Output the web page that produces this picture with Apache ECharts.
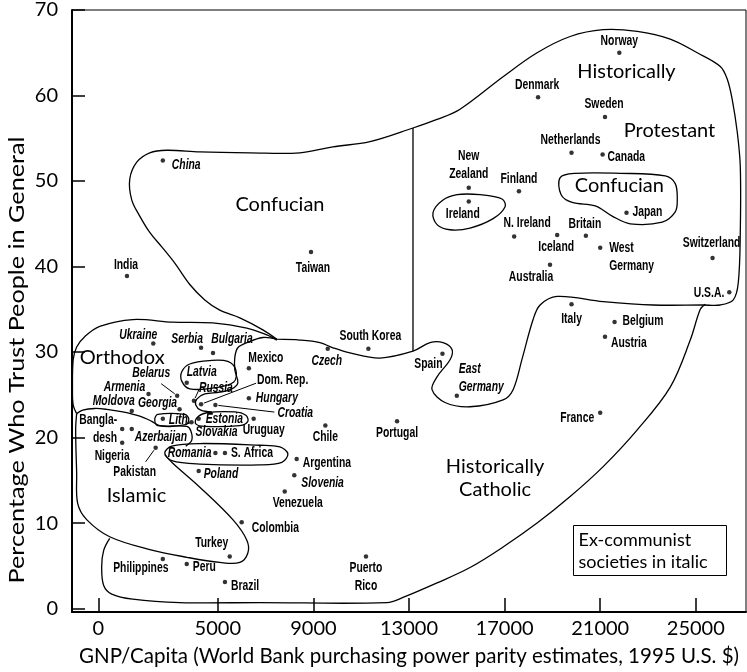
<!DOCTYPE html>
<html>
<head>
<meta charset="utf-8">
<script src="https://cdn.jsdelivr.net/npm/echarts@6/dist/echarts.min.js"></script>
<style>
  html, body { margin: 0; padding: 0; background: #fff; }
  #chart { width: 747px; height: 672px; }
</style>
</head>
<body>
<div id="chart"></div>
<script>
// --- data ---
const countries = ['Norway', 'Denmark', 'Sweden', 'Netherlands', 'Canada', 'New Zealand', 'Finland', 'Ireland', 'Japan',
  'N. Ireland', 'Iceland', 'Britain', 'West Germany', 'Australia', 'Switzerland', 'U.S.A.', 'Italy', 'Belgium', 'Austria',
  'Spain', 'East Germany', 'France', 'Portugal', 'South Korea', 'Puerto Rico', 'China', 'India', 'Taiwan', 'Ukraine',
  'Serbia', 'Bulgaria', 'Latvia', 'Belarus', 'Armenia', 'Georgia', 'Moldova', 'Russia', 'Dom. Rep.', 'Croatia', 'Lith.',
  'Estonia', 'Slovakia', 'Bangladesh', 'Azerbaijan', 'Nigeria', 'Pakistan', 'Romania', 'S. Africa', 'Poland', 'Uruguay',
  'Mexico', 'Hungary', 'Czech', 'Chile', 'Argentina', 'Slovenia', 'Venezuela', 'Colombia', 'Turkey', 'Philippines',
  'Peru', 'Brazil'];
const gnpPerCapita = [21800, 18400, 21200, 19800, 21100, 15500, 17600, 15500, 22100,
  17400, 19200, 20400, 21000, 18900, 25700, 26400, 19800, 21600, 21200,
  14400, 15000, 21000, 12500, 11300, 11200, 2700, 1200, 8900, 2300,
  4300, 4800, 3700, 3300, 2100, 3400, 1400, 4000, 4300, 4900, 2700,
  4200, 3900, 1000, 1400, 1000, 2400, 4900, 5300, 4200, 6500,
  6300, 6300, 9600, 9500, 8300, 8200, 7800, 6000, 5500, 2700,
  3700, 5300];
const trustPct = [65.0, 59.8, 57.5, 53.3, 53.1, 49.2, 48.8, 47.6, 46.3,
  43.5, 43.7, 43.6, 42.2, 40.2, 41.0, 37.0, 35.6, 33.5, 31.8,
  29.8, 24.9, 22.9, 21.9, 30.4, 6.1, 52.4, 38.9, 41.7, 31.0,
  30.5, 29.9, 26.4, 24.9, 25.1, 23.3, 23.1, 24.3, 23.9, 23.8, 22.2,
  22.2, 21.8, 21.0, 21.0, 19.4, 18.8, 18.2, 18.2, 16.1, 22.2,
  28.1, 24.6, 30.4, 21.4, 17.5, 15.6, 13.7, 10.1, 6.1, 5.8,
  5.2, 3.1];
const exCommunist = ['East Germany', 'China', 'Ukraine', 'Serbia', 'Bulgaria', 'Latvia', 'Belarus', 'Armenia', 'Georgia',
  'Moldova', 'Russia', 'Croatia', 'Lith.', 'Estonia', 'Slovakia', 'Azerbaijan', 'Romania', 'Poland', 'Hungary', 'Czech',
  'Slovenia'];

const xTicks = [0, 5000, 9000, 13000, 17000, 21000, 25000];
const yTicks = [0, 10, 20, 30, 40, 50, 60, 70];

// zone names and where they sit (data units)
const regionText = ['Confucian', 'Historically', 'Protestant', 'Confucian', 'Orthodox', 'Islamic', 'Historically\nCatholic'];
const regionX = [7600, 22100, 23900, 21800, 1000, 1600, 16600];
const regionY = [47.2, 62.8, 55.9, 49.5, 29.3, 13.2, 15.3];

// zone boundaries, hand traced (data units)
const confucianProtestantLine = [[7471, 31.5], [6885, 32.6], [5922, 34.0], [5084, 34.9], [4456, 36.1], [3828, 37.9],
  [3200, 40.4], [2655, 42.3], [2153, 44.0], [1734, 45.9], [1399, 47.8], [1315, 50.2], [1608, 52.2], [2153, 53.3],
  [2865, 53.6], [4247, 53.4], [6341, 53.3], [8434, 53.3], [9816, 54.0], [11366, 54.6], [13167, 56.2], [14173, 57.2],
  [15136, 58.4], [16936, 62.2], [18360, 65.0], [19742, 66.9], [21124, 67.7], [22549, 67.5], [23930, 66.6],
  [25061, 65.0], [26024, 63.4], [26317, 61.9], [26526, 59.5], [26735, 55.7], [26861, 51.7], [26861, 44.0],
  [26777, 38.1], [26568, 36.1], [26024, 35.5], [25312, 35.5], [23219, 35.5], [21124, 35.9], [19197, 36.5],
  [18485, 35.5], [18192, 33.8], [17732, 29.2], [17355, 25.6], [16936, 24.4], [15554, 23.6], [14508, 24.1],
  [13963, 25.6], [14173, 27.1], [14717, 29.1], [14801, 30.3], [14424, 31.1], [13879, 31.1], [13167, 30.1],
  [11785, 29.3], [10528, 29.9], [9816, 30.5], [9272, 31.1], [8434, 31.4], [7471, 31.5]];
const confucianDivider = [[13167, 56.2], [13167, 30.1]];
const catholicOuterLine = [[25396, 35.6], [25187, 35.0], [24768, 31.4], [23930, 25.9], [22549, 20.9], [21124, 16.6],
  [19742, 13.1], [18360, 10.0], [16936, 7.2], [15554, 4.8], [14173, 3.0], [12749, 1.3], [12079, 0.7], [6759, 0.7],
  [3409, 0.7], [1441, 1.1], [561, 1.7], [226, 2.7], [142, 4.9], [226, 6.8], [477, 8.2]];
const catholicWestLine = [[7471, 31.5], [6885, 31.7], [6215, 31.1], [5838, 30.5], [5713, 29.4], [5713, 27.9],
  [5838, 26.4], [5587, 25.7], [5084, 25.3], [4456, 25.1], [4121, 24.5], [4079, 23.8], [4289, 23.2], [4749, 23.0]];
const orthodoxLine = [[7471, 31.4], [7052, 32.0], [6215, 32.8], [4791, 33.4], [3116, 33.5], [1441, 33.8], [59, 33.0],
  [-570, 31.8], [-905, 30.6], [-1050, 29.1], [-1080, 25.6], [-1050, 23.8], [-905, 22.8]];
const islamicTopLine = [[-905, 22.8], [-653, 23.2], [-151, 23.4], [352, 23.3], [1022, 23.0], [1734, 22.5],
  [2236, 21.9], [2571, 21.4], [3702, 21.3], [3870, 20.8], [3912, 19.7], [3660, 19.0]];
const islamicLowerLine = [[-905, 22.8], [-947, 20.9], [-905, 15.9], [-863, 12.3], [-486, 10.4], [477, 8.4],
  [2153, 6.9], [3702, 6.0], [5084, 5.4], [5922, 5.4], [6257, 6.5], [6215, 8.0], [5629, 10.4], [4247, 14.2],
  [3116, 17.0], [2781, 18.0]];
const romaniaLoop = [[2781, 18.2], [3074, 19.0], [4247, 19.3], [6759, 19.1], [7597, 18.9], [7932, 18.1],
  [7680, 17.1], [6759, 16.8], [4247, 16.9], [3074, 17.3]];
const latviaLoop = [[3493, 27.7], [3828, 28.6], [4666, 29.0], [5419, 28.9], [5754, 27.9], [5670, 26.5],
  [4833, 25.8], [3828, 25.7], [3493, 26.6]];
const lithLoop = [[2488, 22.7], [3618, 22.7], [3786, 22.2], [3660, 21.5], [2488, 21.4], [2362, 22.1]];
const estoniaLoop = [[4121, 22.3], [4540, 22.9], [5713, 23.0], [6173, 22.6], [6257, 21.9], [5922, 21.4],
  [4456, 21.3], [4079, 21.6]];
const irelandLoop = [[14005, 46.3], [14382, 47.7], [15010, 48.4], [15973, 48.4], [16894, 47.9], [17020, 47.0],
  [16518, 45.6], [15554, 44.5], [14717, 44.3], [14173, 44.9]];
const japanLoop = [[19323, 50.4], [19951, 50.9], [21836, 50.9], [23721, 50.6], [24140, 49.7], [24224, 47.8],
  [24140, 46.4], [23596, 45.2], [22255, 45.0], [21501, 45.9], [20789, 47.1], [19826, 47.5], [19365, 48.4]];

const boundaries = [
  { pts: confucianProtestantLine, closed: false },
  { pts: confucianDivider, closed: false },
  { pts: catholicOuterLine, closed: false },
  { pts: catholicWestLine, closed: false },
  { pts: orthodoxLine, closed: false },
  { pts: islamicTopLine, closed: false },
  { pts: islamicLowerLine, closed: false },
  { pts: romaniaLoop, closed: true },
  { pts: latviaLoop, closed: true },
  { pts: lithLoop, closed: true },
  { pts: estoniaLoop, closed: true },
  { pts: irelandLoop, closed: true },
  { pts: japanLoop, closed: true }
];

// --- label styling (pixel offsets from the dot) ---
const labelPlacement = {
  'Norway': [0, -12, 'center'], 'Denmark': [-1, -12, 'center'], 'Sweden': [-1, -13, 'center'],
  'Netherlands': [-1, -13, 'center'], 'Canada': [5, 3, 'left'], 'New Zealand': [0, -23, 'center'],
  'Finland': [0, -12, 'center'], 'Ireland': [-6, 13, 'center'], 'Japan': [6, -1, 'left'],
  'N. Ireland': [13, -13, 'center'], 'Iceland': [-1, 12, 'center'], 'Britain': [-1, -12, 'center'],
  'West Germany': [9, 9, 'left'], 'Australia': [-19, 12, 'center'], 'Switzerland': [-1, -15, 'center'],
  'U.S.A.': [-5, 1, 'right'], 'Italy': [0, 15, 'center'], 'Belgium': [8, -1, 'left'], 'Austria': [6, 6, 'left'],
  'Spain': [-14, 10, 'center'], 'East Germany': [2, -18, 'left'], 'France': [-6, 5, 'right'],
  'Portugal': [0, 12, 'center'], 'South Korea': [2, -12, 'center'], 'Puerto Rico': [0, 21, 'center'],
  'China': [9, 5, 'left'], 'India': [-1, -11, 'center'], 'Taiwan': [2, 16, 'center'],
  'Ukraine': [-15, -8, 'center'], 'Serbia': [-14, -9, 'center'], 'Bulgaria': [19, -14, 'center'],
  'Latvia': [15, -11, 'center'], 'Belarus': [-26, -23, 'center'], 'Armenia': [-24, -7, 'center'],
  'Georgia': [-22, -6, 'center'], 'Moldova': [-18, -10, 'center'], 'Russia': [22, -13, 'center'],
  'Dom. Rep.': [56, -24, 'left'], 'Croatia': [62, 8, 'left'], 'Lith.': [6, 1, 'left'], 'Estonia': [7, 0, 'left'],
  'Slovakia': [25, 10, 'center'], 'Bangladesh': [-5, 0, 'right'], 'Azerbaijan': [3, 8, 'left'],
  'Nigeria': [-10, 13, 'center'], 'Pakistan': [-21, 24, 'center'], 'Romania': [-4, 0, 'right'],
  'S. Africa': [6, 0, 'left'], 'Poland': [5, 3, 'left'], 'Uruguay': [10, 11, 'center'],
  'Mexico': [17, -10, 'center'], 'Hungary': [7, 0, 'left'], 'Czech': [-1, 13, 'center'], 'Chile': [0, 12, 'center'],
  'Argentina': [6, 4, 'left'], 'Slovenia': [7, 8, 'left'], 'Venezuela': [13, 12, 'center'],
  'Colombia': [10, 6, 'left'], 'Turkey': [-18, -13, 'center'], 'Philippines': [-22, 9, 'center'],
  'Peru': [6, 3, 'left'], 'Brazil': [6, 4, 'left']
};
const labelText = {
  'New Zealand': 'New\nZealand', 'West Germany': 'West\nGermany', 'East Germany': 'East\nGermany',
  'Puerto Rico': 'Puerto\nRico', 'Bangladesh': 'Bangla-\ndesh'
};
// leader lines: label end relative to dot
const leaders = [['Belarus', -16, -12], ['Russia', 5, -11], ['Dom. Rep.', 55, -21], ['Croatia', 59, 7], ['Pakistan', -10, 14]];

const axisFont = 'Lato, "DejaVu Sans", sans-serif';
const countryFont = '"Liberation Sans", Arial, sans-serif';
const condense = 0.74; // squeeze to look like a condensed face

const chartDom = document.getElementById('chart');
const myChart = echarts.init(chartDom, null, { renderer: 'canvas' });

const option = {
  animation: false,
  backgroundColor: '#fff',
  grid: { left: 72, right: 1, top: 10, bottom: 60, show: true, borderColor: '#000', borderWidth: 1 },
  xAxis: {
    type: 'value',
    min: -1100,
    max: 27100,
    name: 'GNP/Capita (World Bank purchasing power parity estimates, 1995 U.S. $)',
    nameLocation: 'middle',
    nameGap: 34,
    nameTextStyle: { fontFamily: axisFont, fontSize: 20.5, color: '#000' },
    axisLine: { show: true, onZero: false, lineStyle: { color: '#000', width: 2 } },
    axisTick: { show: true, inside: true, length: 14, customValues: xTicks, lineStyle: { color: '#000', width: 1.5 } },
    axisLabel: { customValues: xTicks, margin: 7, fontSize: 20, fontFamily: axisFont, color: '#000', formatter: v => String(v) },
    splitLine: { show: false }
  },
  yAxis: {
    type: 'value',
    min: -0.4,
    max: 70,
    axisLine: { show: true, onZero: false, lineStyle: { color: '#000', width: 2 } },
    axisTick: { show: true, inside: true, length: 13, customValues: yTicks, lineStyle: { color: '#000', width: 1.5 } },
    axisLabel: { customValues: yTicks, margin: 14, fontSize: 20, fontFamily: axisFont, color: '#000' },
    splitLine: { show: false }
  },
  graphic: [
    {
      type: 'text',
      x: 17,
      y: 360,
      rotation: Math.PI / 2,
      scaleX: 1.2,
      style: {
        text: 'Percentage Who Trust People in General',
        fontFamily: axisFont, fontSize: 21, fill: '#000', align: 'center', verticalAlign: 'middle'
      }
    },
    {
      type: 'group',
      left: 573,
      top: 525,
      children: [
        { type: 'rect', shape: { x: 0, y: 0, width: 153, height: 50 }, style: { fill: '#fff', stroke: '#000', lineWidth: 1 } },
        { type: 'text', x: 5, y: 15, style: { text: 'Ex-communist', fontFamily: axisFont, fontSize: 18, fill: '#000', verticalAlign: 'middle' } },
        { type: 'text', x: 5, y: 37, style: { text: 'societies in italic', fontFamily: axisFont, fontSize: 18, fill: '#000', verticalAlign: 'middle' } }
      ]
    }
  ],
  series: [
    {
      name: 'zones',
      type: 'custom',
      silent: true,
      z: 1,
      data: boundaries.map(b => b.pts[0]),
      renderItem: (params, api) => {
        const b = boundaries[params.dataIndex];
        const pts = b.pts.map(p => api.coord(p));
        return {
          type: b.closed ? 'polygon' : 'polyline',
          shape: { points: pts, smooth: 0.35 },
          style: { fill: 'none', stroke: '#000', lineWidth: 1.3 }
        };
      }
    },
    {
      name: 'leaders',
      type: 'custom',
      silent: true,
      z: 1,
      data: leaders.map(l => { const i = countries.indexOf(l[0]); return [gnpPerCapita[i], trustPct[i]]; }),
      renderItem: (params, api) => {
        const [, dx, dy] = leaders[params.dataIndex];
        const p = api.coord([api.value(0), api.value(1)]);
        const len = Math.sqrt(dx * dx + dy * dy);
        return {
          type: 'line',
          shape: { x1: p[0] + dx / len * 3, y1: p[1] + dy / len * 3, x2: p[0] + dx, y2: p[1] + dy },
          style: { stroke: '#000', lineWidth: 1 }
        };
      }
    },
    {
      name: 'zone names',
      type: 'custom',
      silent: true,
      z: 2,
      data: regionText.map((t, i) => [regionX[i], regionY[i]]),
      renderItem: (params, api) => {
        const p = api.coord([api.value(0), api.value(1)]);
        return {
          type: 'text',
          x: p[0],
          y: p[1],
          style: {
            text: regionText[params.dataIndex],
            fontFamily: axisFont,
            fontSize: 20,
            lineHeight: 23,
            fill: '#000',
            align: 'center',
            verticalAlign: 'middle'
          }
        };
      }
    },
    {
      name: 'societies',
      type: 'scatter',
      z: 3,
      symbol: 'circle',
      symbolSize: 4.5,
      itemStyle: { color: '#000' },
      data: countries.map((c, i) => ({ name: c, value: [gnpPerCapita[i], trustPct[i]] }))
    },
    {
      name: 'society names',
      type: 'custom',
      silent: true,
      z: 4,
      data: countries.map((c, i) => [gnpPerCapita[i], trustPct[i]]),
      renderItem: (params, api) => {
        const c = countries[params.dataIndex];
        const [dx, dy, align] = labelPlacement[c];
        const p = api.coord([api.value(0), api.value(1)]);
        return {
          type: 'text',
          x: p[0] + dx,
          y: p[1] + dy,
          scaleX: condense,
          style: {
            text: labelText[c] || c,
            fontFamily: countryFont,
            fontWeight: 'bold',
            fontStyle: exCommunist.includes(c) ? 'italic' : 'normal',
            fontSize: 14,
            lineHeight: 18,
            fill: '#000',
            align: align,
            verticalAlign: 'middle'
          }
        };
      }
    }
  ]
};

option && myChart.setOption(option);
</script>
</body>
</html>
